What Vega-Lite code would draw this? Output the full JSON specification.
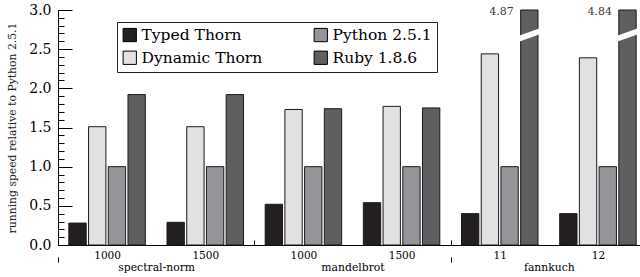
{
  "$schema": "https://vega.github.io/schema/vega-lite/v6.json",
  "autosize": {"type": "none"},
  "padding": {"left": 58, "top": 10, "right": 0, "bottom": 32},
  "width": 582,
  "height": 235,
  "config": {
    "view": {"stroke": null},
    "font": "DejaVu Serif",
    "axis": {"grid": false, "domainColor": "#000", "tickColor": "#000", "labelColor": "#000", "labelFont": "DejaVu Serif", "titleFont": "DejaVu Serif", "titleColor": "#222"},
    "legend": {"labelFont": "DejaVu Serif"},
    "text": {"font": "DejaVu Serif"}
  },
  "datasets": {
    "speeds": [
      {"benchmark": "spectral-norm", "case": "spectral-norm|1000", "series": "Typed Thorn", "value": 0.28},
      {"benchmark": "spectral-norm", "case": "spectral-norm|1000", "series": "Dynamic Thorn", "value": 1.51},
      {"benchmark": "spectral-norm", "case": "spectral-norm|1000", "series": "Python 2.5.1", "value": 1.0},
      {"benchmark": "spectral-norm", "case": "spectral-norm|1000", "series": "Ruby 1.8.6", "value": 1.92},
      {"benchmark": "spectral-norm", "case": "spectral-norm|1500", "series": "Typed Thorn", "value": 0.29},
      {"benchmark": "spectral-norm", "case": "spectral-norm|1500", "series": "Dynamic Thorn", "value": 1.51},
      {"benchmark": "spectral-norm", "case": "spectral-norm|1500", "series": "Python 2.5.1", "value": 1.0},
      {"benchmark": "spectral-norm", "case": "spectral-norm|1500", "series": "Ruby 1.8.6", "value": 1.92},
      {"benchmark": "mandelbrot", "case": "mandelbrot|1000", "series": "Typed Thorn", "value": 0.52},
      {"benchmark": "mandelbrot", "case": "mandelbrot|1000", "series": "Dynamic Thorn", "value": 1.73},
      {"benchmark": "mandelbrot", "case": "mandelbrot|1000", "series": "Python 2.5.1", "value": 1.0},
      {"benchmark": "mandelbrot", "case": "mandelbrot|1000", "series": "Ruby 1.8.6", "value": 1.74},
      {"benchmark": "mandelbrot", "case": "mandelbrot|1500", "series": "Typed Thorn", "value": 0.54},
      {"benchmark": "mandelbrot", "case": "mandelbrot|1500", "series": "Dynamic Thorn", "value": 1.77},
      {"benchmark": "mandelbrot", "case": "mandelbrot|1500", "series": "Python 2.5.1", "value": 1.0},
      {"benchmark": "mandelbrot", "case": "mandelbrot|1500", "series": "Ruby 1.8.6", "value": 1.75},
      {"benchmark": "fannkuch", "case": "fannkuch|11", "series": "Typed Thorn", "value": 0.4},
      {"benchmark": "fannkuch", "case": "fannkuch|11", "series": "Dynamic Thorn", "value": 2.44},
      {"benchmark": "fannkuch", "case": "fannkuch|11", "series": "Python 2.5.1", "value": 1.0},
      {"benchmark": "fannkuch", "case": "fannkuch|11", "series": "Ruby 1.8.6", "value": 4.87},
      {"benchmark": "fannkuch", "case": "fannkuch|12", "series": "Typed Thorn", "value": 0.4},
      {"benchmark": "fannkuch", "case": "fannkuch|12", "series": "Dynamic Thorn", "value": 2.39},
      {"benchmark": "fannkuch", "case": "fannkuch|12", "series": "Python 2.5.1", "value": 1.0},
      {"benchmark": "fannkuch", "case": "fannkuch|12", "series": "Ruby 1.8.6", "value": 4.84}
    ]
  },
  "data": {"name": "speeds"},
  "layer": [
    {
      "layer": [
        {
          "mark": {"type": "bar", "stroke": "#1a1a1a", "strokeWidth": 1},
          "encoding": {
            "x": {
              "field": "case", "type": "nominal",
              "scale": {"domain": ["spectral-norm|1000", "spectral-norm|1500", "mandelbrot|1000", "mandelbrot|1500", "fannkuch|11", "fannkuch|12"], "range": [0, 589], "paddingInner": 0, "paddingOuter": 0},
              "axis": {
                "title": null, "orient": "bottom", "labelAngle": 0,
                "labelExpr": "split(datum.label, '|')[1]",
                "tickBand": "extent", "tickSize": -5,
                "tickOpacity": {"condition": {"test": "indexof(['spectral-norm|1500','mandelbrot|1500','fannkuch|12'], datum.value) >= 0", "value": 1}, "value": 0},
                "labelFontSize": 10.5, "labelBaseline": "alphabetic", "labelPadding": 18
              }
            },
            "xOffset": {
              "field": "series", "type": "nominal",
              "scale": {"domain": ["Typed Thorn", "Dynamic Thorn", "Python 2.5.1", "Ruby 1.8.6"], "paddingInner": 0.12, "paddingOuter": 0.55}
            },
            "y": {
              "field": "value", "type": "quantitative",
              "scale": {"domain": [0, 3], "clamp": true, "nice": false},
              "axis": {
                "title": "running speed relative to Python 2.5.1",
                "tickCount": 6, "format": ".1f", "labelOverlap": false,
                "tickSize": -14, "labelPadding": 21, "labelFontSize": 14,
                "titleFontSize": 10.8, "titleFontWeight": "normal", "titlePadding": 11
              }
            },
            "color": {
              "field": "series", "type": "nominal",
              "scale": {"domain": ["Typed Thorn", "Dynamic Thorn", "Python 2.5.1", "Ruby 1.8.6"], "range": ["#231f20", "#e1e1e3", "#939598", "#5e5f61"]},
              "legend": {
                "orient": "none", "legendX": 59, "legendY": 12, "title": null, "columns": 2,
                "symbolType": "square", "symbolSize": 177, "symbolStrokeColor": "#000", "symbolStrokeWidth": 1, "symbolOpacity": 1,
                "labelFontSize": 15.5, "labelColor": "#000", "labelOffset": 4,
                "strokeColor": "#222", "fillColor": "white", "padding": 5, "rowPadding": 5, "columnPadding": 49,
                "labelExpr": "datum.label == 'Python 2.5.1' ? datum.label + '\u00a0\u00a0\u00a0\u00a0\u00a0\u00a0\u00a0\u00a0\u00a0\u00a0\u00a0' : datum.label"
              }
            }
          }
        },
        {
          "transform": [{"filter": "datum.value > 3"}],
          "mark": {"type": "text", "align": "right", "baseline": "middle", "dx": -15.5, "dy": 2, "fontSize": 11, "color": "#3a3a3a"},
          "encoding": {
            "x": {"field": "case", "type": "nominal"},
            "xOffset": {"field": "series", "type": "nominal"},
            "y": {"datum": 3, "type": "quantitative"},
            "text": {"field": "value", "type": "quantitative", "format": ".2f"}
          }
        },
        {
          "transform": [{"filter": "datum.value > 3"}],
          "mark": {"type": "point", "shape": "M-1,0.63L1,-0.08L1,-0.65L-1,0.06Z", "filled": true, "color": "white", "opacity": 1, "size": 441, "strokeWidth": 0},
          "encoding": {
            "x": {"field": "case", "type": "nominal"},
            "xOffset": {"field": "series", "type": "nominal"},
            "y": {"datum": 2.68, "type": "quantitative"}
          }
        }
      ]
    },
    {
      "mark": {"type": "point", "opacity": 0},
      "encoding": {
        "x": {
          "field": "benchmark", "type": "nominal",
          "scale": {"domain": ["spectral-norm", "mandelbrot", "fannkuch"], "range": [0, 589], "paddingInner": 0, "paddingOuter": 0},
          "axis": {
            "title": null, "orient": "bottom", "offset": 12, "domain": false, "labelAngle": 0,
            "tickBand": "extent", "tickSize": 5,
            "tickOpacity": {"condition": {"test": "datum.value == 'spectral-norm'", "value": 0}, "value": 1},
            "labelFontSize": 10.8, "labelBaseline": "alphabetic", "labelPadding": 8
          }
        },
        "y": {
          "datum": 0, "type": "quantitative",
          "axis": {"orient": "left", "title": null, "labels": false, "domain": false, "tickSize": -6, "tickCount": 30}
        }
      }
    }
  ],
  "resolve": {"scale": {"x": "independent"}, "axis": {"x": "independent", "y": "independent"}}
}
